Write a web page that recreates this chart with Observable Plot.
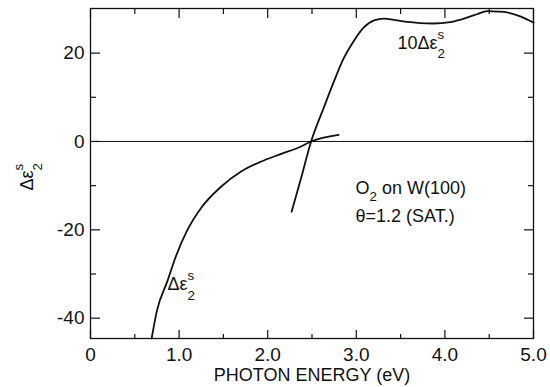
<!DOCTYPE html>
<html>
<head>
<meta charset="utf-8">
<script src="https://cdn.jsdelivr.net/npm/d3@7"></script>
<script src="https://cdn.jsdelivr.net/npm/@observablehq/plot@0.6"></script>
<style>
  html, body { margin: 0; padding: 0; background: #fff; }
  #chart { width: 550px; height: 387px; }
</style>
</head>
<body>
<div id="chart"></div>
<script>
// Surface dielectric change Δε₂ˢ (eV scan), O₂ on W(100)
const deltaEnergy = [0.69, 0.75, 0.87, 0.96, 1.09, 1.25, 1.47, 1.70, 1.92, 2.14, 2.37, 2.49, 2.80];
const deltaEps2   = [-44.6, -38.3, -31.5, -26.2, -20.2, -15.0, -10.3, -6.8, -4.6, -2.9, -1.2, 0.0, 1.5];

// Same quantity scaled by ten
const tenEnergy = [2.27, 2.37, 2.49, 2.64, 2.75, 2.86, 2.97, 3.08, 3.20, 3.31, 3.46, 3.61, 3.72, 3.87, 4.06, 4.18, 4.29, 4.36, 4.48, 4.60, 4.70, 4.85, 5.00];
const tenEps2   = [-15.9, -8.8, 0.0, 8.0, 13.7, 18.9, 22.7, 25.7, 27.4, 27.8, 27.4, 27.0, 26.8, 26.7, 27.0, 27.6, 28.3, 28.8, 29.5, 29.4, 29.2, 28.3, 26.9];

// Ticks
const xMajor = [0, 1, 2, 3, 4, 5];
const xMinor = [0.5, 1.5, 2.5, 3.5, 4.5];
const yMajor = [-40, -20, 0, 20];
const yMinor = [-30, -10, 10];

// Text labels (markup: _{..} subscript, ^{..} superscript)
const xTitle = "PHOTON ENERGY (eV)";
const yTitle = "Δε_{2}^{s}";
const notes = [
  {x: 0.869, y: -33.7, text: "Δε_{2}^{s}"},
  {x: 3.465, y: 21.0, text: "10Δε_{2}^{s}"},
  {x: 2.991, y: -11.9, text: "O_{2} on W(100)"},
  {x: 2.991, y: -18.2, text: "θ=1.2 (SAT.)"}
];

const curveA = deltaEnergy.map((e, i) => ({e, v: deltaEps2[i]}));
const curveB = tenEnergy.map((e, i) => ({e, v: tenEps2[i]}));

const ink = "#111";
const font = "'Liberation Sans', Arial, sans-serif";

// inward tick helpers: a normal outward tick shifted back inside the frame
const inX = (ticks, anchor, size) => Plot.axisX(ticks, {
  anchor, tickSize: size, fill: "none", label: null, strokeWidth: 1.2,
  dy: anchor === "bottom" ? -size : size
});
const inY = (ticks, anchor, size) => Plot.axisY(ticks, {
  anchor, tickSize: size, fill: "none", label: null, strokeWidth: 1.2,
  dx: anchor === "left" ? size : -size
});

const chart = Plot.plot({
  width: 550,
  height: 387,
  marginLeft: 90,
  marginRight: 17,
  marginTop: 8,
  marginBottom: 49,
  style: {fontFamily: font, fontSize: "19px", color: ink, background: "#fff"},
  x: {domain: [0, 5]},
  y: {domain: [-44.6, 30.1]},
  marks: [
    Plot.frame({stroke: ink, strokeWidth: 1.3}),
    Plot.ruleY([0], {stroke: ink, strokeWidth: 1}),
    inX(xMajor, "bottom", 8),
    inX(xMinor, "bottom", 4),
    inX(xMajor, "top", 9),
    inX(xMinor, "top", 5),
    inY(yMajor, "left", 10),
    inY(yMinor, "left", 6),
    inY(yMajor, "right", 10),
    inY(yMinor, "right", 6),
    // tick labels
    Plot.axisX(xMajor, {anchor: "bottom", tickSize: 0, tickPadding: 9, label: null,
      tickFormat: d => d === 0 ? "0" : d.toFixed(1)}),
    Plot.axisY(yMajor, {anchor: "left", tickSize: 0, tickPadding: 6, label: null,
      tickFormat: d => String(d)}),
    // curves
    Plot.line(curveA, {x: "e", y: "v", curve: "monotone-x", stroke: ink, strokeWidth: 1.8}),
    Plot.line(curveB, {x: "e", y: "v", curve: "monotone-x", stroke: ink, strokeWidth: 1.8}),
    // axis titles
    Plot.text([xTitle], {frameAnchor: "bottom", lineAnchor: "bottom", dy: 42, fontSize: 18, fill: ink}),
    Plot.text([yTitle], {frameAnchor: "left", rotate: -90, textAnchor: "start", lineAnchor: "bottom",
      dx: -58, dy: 17, fontSize: 18, fill: ink}),
    // annotations
    Plot.text(notes, {x: "x", y: "y", text: "text", textAnchor: "start", lineAnchor: "bottom",
      fontSize: 18, fill: ink})
  ]
});

document.getElementById("chart").appendChild(chart);

// Turn _{..} / ^{..} markup into subscript / superscript tspans
// (a subscript followed by a superscript is stacked at the same position)
function richText(svg) {
  const svgNS = "http://www.w3.org/2000/svg";
  const markup = /(_\{[^}]*\}(?:\^\{[^}]*\})?|\^\{[^}]*\})/;
  d3.select(svg).selectAll("text").each(function () {
    const el = this;
    const src = el.textContent;
    if (!markup.test(src)) return;
    const fs = parseFloat(getComputedStyle(el).fontSize) || 18;
    el.textContent = "";
    const parts = src.split(markup).filter(s => s !== "");
    let shift = 0;
    for (const p of parts) {
      const m = p.match(/^_\{([^}]*)\}(?:\^\{([^}]*)\})?$|^\^\{([^}]*)\}$/);
      if (!m) {
        const t = document.createElementNS(svgNS, "tspan");
        t.textContent = p;
        if (shift) t.setAttribute("dy", -shift);
        shift = 0;
        el.appendChild(t);
        continue;
      }
      const sub = m[1], sup = m[2] ?? m[3];
      const stacked = sub != null && sup != null;
      let subWidth = 0;
      if (sub != null) {
        const off = fs * (stacked ? 0.52 : 0.36);
        const t = document.createElementNS(svgNS, "tspan");
        t.textContent = sub;
        t.setAttribute("font-size", fs * 0.74);
        t.setAttribute("dy", off - shift);
        shift = off;
        el.appendChild(t);
        subWidth = t.getComputedTextLength();
      }
      if (sup != null) {
        const off = -fs * 0.55;
        const t = document.createElementNS(svgNS, "tspan");
        t.textContent = sup;
        t.setAttribute("font-size", fs * 0.74);
        if (subWidth) t.setAttribute("dx", -subWidth);
        t.setAttribute("dy", off - shift);
        shift = off;
        el.appendChild(t);
      }
    }
  });
}
richText(chart);
</script>
</body>
</html>
